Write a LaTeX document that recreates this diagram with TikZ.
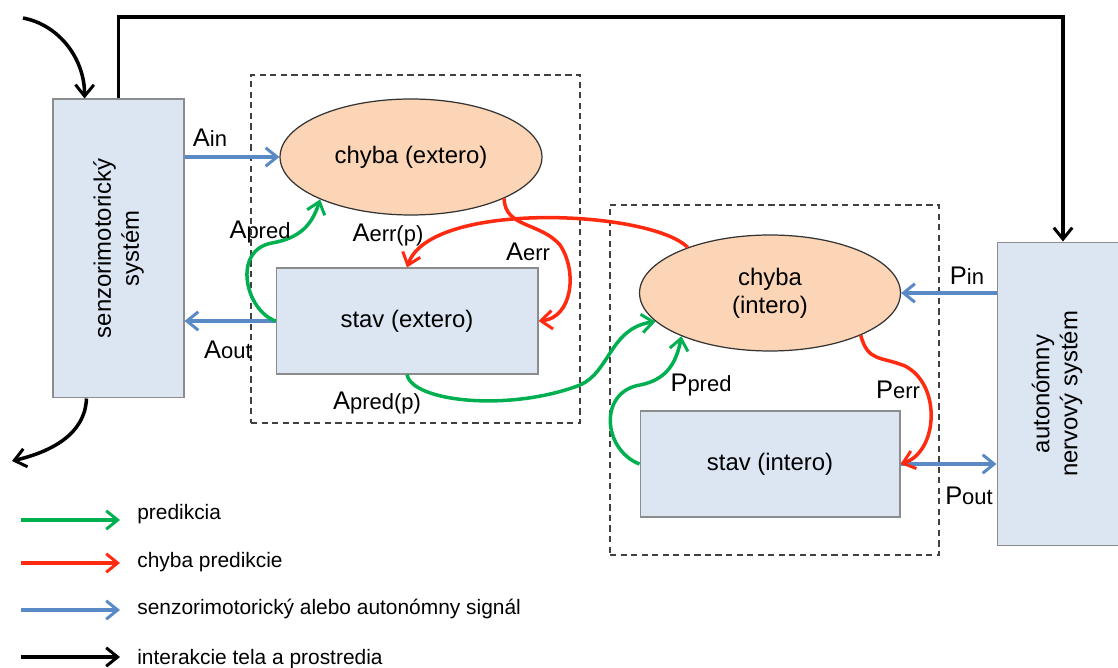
\documentclass[tikz,border=0pt]{standalone}
\usepackage{fontspec}
\setmainfont{Liberation Sans}
\usetikzlibrary{arrows.meta,calc,shapes.geometric}
\definecolor{boxfill}{HTML}{DCE6F2}
\definecolor{boxline}{HTML}{8C8C8C}
\definecolor{ellfill}{HTML}{FBD5B5}
\definecolor{pgreen}{HTML}{00B050}
\definecolor{pred}{HTML}{FF2A10}
\definecolor{pblue}{HTML}{5A8AC6}
\newcommand{\lab}[2]{{\fontsize{14.5}{14}\selectfont #1}{\fontsize{12.5}{12}\selectfont #2}}
\tikzset{
  txt/.style={font=\fontsize{13.6}{16}\selectfont, align=center},
  sysbox/.style={draw=boxline, line width=0.6pt, fill=boxfill, inner sep=0pt},
  ellnode/.style={ellipse, draw=black!80, line width=0.7pt, fill=ellfill, inner sep=0pt},
  dbox/.style={draw=black!75, line width=0.8pt, dash pattern=on 3.5pt off 2.5pt, inner sep=0pt},
  tip/.style={-{Straight Barb[length=6.5pt,width=10.5pt,line width=1.7pt]}},
  garrow/.style={tip, draw=pgreen, line width=2pt},
  rarrow/.style={tip, draw=pred, line width=2pt},
  barrow/.style={tip, draw=pblue, line width=2pt},
  karrow/.style={tip, draw=black, line width=2pt},
  lbl/.style={inner sep=0pt},
  legtxt/.style={anchor=west, inner sep=0pt, font=\fontsize{11.9}{14}\selectfont},
}
\begin{document}
\begin{tikzpicture}[x=0.02cm,y=-0.02cm]
\useasboundingbox (0,0) rectangle (1118,668);
% dashed groups
\node[dbox, minimum width=6.58cm, minimum height=6.96cm] (g1) at (415.5,249) {};
\node[dbox, minimum width=6.58cm, minimum height=7.0cm] (g2) at (774.5,380) {};
% systems
\node[sysbox, minimum width=2.62cm, minimum height=5.98cm] (senz) at (118.5,248.5) {};
\node[txt, rotate=90] (senzt) at (senz.center) {senzorimotorický\\systém};
\node[sysbox, minimum width=2.5cm, minimum height=6.08cm] (auto) at (1059.5,394) {};
\node[txt, rotate=90] (autot) at (1057,394) {autonómny\\nervový systém};
% inner nodes
\node[ellnode, minimum width=5.24cm, minimum height=2.32cm, txt] (ellE) at (411,157) {chyba (extero)};
\node[sysbox, minimum width=5.24cm, minimum height=2.12cm, txt] (stavE) at (407,321) {stav (extero)};
\node[ellnode, minimum width=5.22cm, minimum height=2.32cm, txt] (ellI) at (770,293) {chyba\\(intero)};
\node[sysbox, minimum width=5.2cm, minimum height=2.12cm, txt] (stavI) at (770,464) {stav (intero)};
% blue signals
\draw[barrow] (senz.east |- ellE.west) -- (ellE.west);
\draw[barrow] (stavE.west) -- (senz.east |- stavE.west);
\draw[barrow] (auto.west |- ellI.east) -- (ellI.east);
\draw[barrow] (stavI.east) -- (auto.west |- stavI.east);
% black interactions
\coordinate (topR) at (1063,17);
\draw[karrow] (senz.north) -- (senz.north |- topR) -- (topR) -- (topR |- auto.north);
\coordinate (inS) at (23,18);
\draw[karrow] (inS) .. controls (60,25) and (85,60) .. ($(senz.north west)+(32,0)$);
\coordinate (outS) at (12,461);
\draw[karrow] ($(senz.south west)+(34,0)$) .. controls (85,435) and (50,452) .. (outS);
% green predictions
\draw[garrow] (stavE.west) .. controls (245,310) and (232,250) .. (272,243) .. controls (300,238) and (312,225) .. (ellE.205);
\draw[garrow] (stavE.south) .. controls (412,402) and (510,412) .. (580,385) .. controls (610,372) and (610,328) .. (ellI.194);
\draw[garrow] (stavI.west) .. controls (603,450) and (598,392) .. (640,385) .. controls (665,380) and (676,365) .. (ellI.206);
% red errors
\draw[rarrow] (ellE.-24) .. controls (505,228) and (540,222) .. (560,245) .. controls (578,272) and (572,318) .. (stavE.east);
\draw[rarrow] (ellI.151) .. controls (650,210) and (430,200) .. (stavE.north);
\draw[rarrow] (ellI.-25) .. controls (868,362) and (880,356) .. (905,366) .. controls (942,385) and (938,452) .. (stavI.east);
% labels
\node[lbl] (lAin) at (210,138) {\lab{A}{in}};
\node[lbl] (lAout) at (228,350) {\lab{A}{out}};
\node[lbl] (lApred) at (260,232) {\lab{A}{pred}};
\node[lbl] (lAerrp) at (388,235) {\lab{A}{err(p)}};
\node[lbl] (lAerr) at (528,252) {\lab{A}{err}};
\node[lbl] (lApredp) at (377,403) {\lab{A}{pred(p)}};
\node[lbl] (lPin) at (967,276) {\lab{P}{in}};
\node[lbl] (lPout) at (969,496) {\lab{P}{out}};
\node[lbl] (lPpred) at (701,385) {\lab{P}{pred}};
\node[lbl] (lPerr) at (898,390) {\lab{P}{err}};
% legend
\node[legtxt] (t1) at (137,514) {predikcia};
\node[legtxt] (t2) at (137,562) {chyba predikcie};
\node[legtxt] (t3) at (137,609) {senzorimotorický alebo autonómny signál};
\node[legtxt] (t4) at (137,659) {interakcie tela a prostredia};
\coordinate (l1) at (21,520); \coordinate (l1e) at (120,520);
\coordinate (l2) at (21,563); \coordinate (l2e) at (120,563);
\coordinate (l3) at (21,610); \coordinate (l3e) at (120,610);
\coordinate (l4) at (21,657); \coordinate (l4e) at (120,657);
\draw[garrow] (l1) -- (l1e);
\draw[rarrow] (l2) -- (l2e);
\draw[barrow] (l3) -- (l3e);
\draw[karrow] (l4) -- (l4e);
\end{tikzpicture}
\end{document}
